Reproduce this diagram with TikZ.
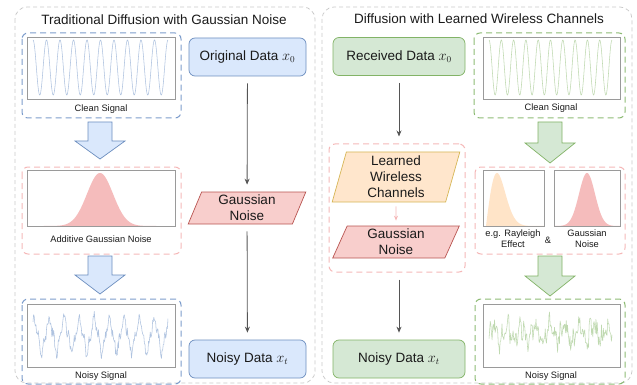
\documentclass[tikz,border=0pt]{standalone}
\usepackage{fontspec}
\setmainfont{Liberation Sans}
\usetikzlibrary{shapes.geometric,arrows.meta}
\definecolor{bfill}{HTML}{DAE8FC}
\definecolor{bline}{HTML}{6C8EBF}
\definecolor{bdashc}{HTML}{7C9CCB}
\definecolor{gfill}{HTML}{D5E8D4}
\definecolor{gline}{HTML}{82B366}
\definecolor{gdashc}{HTML}{8DBB74}
\definecolor{rfill}{HTML}{F8CECC}
\definecolor{rline}{HTML}{B85450}
\definecolor{ofill}{HTML}{FFE6CC}
\definecolor{oline}{HTML}{D6B656}
\definecolor{pdashc}{HTML}{F5B8B8}
\definecolor{grayout}{HTML}{C8C8C8}
\definecolor{arrowc}{HTML}{555555}
\definecolor{bsig}{HTML}{AFC3E0}
\definecolor{gsig}{HTML}{BFD9B0}
\definecolor{pinkc}{HTML}{F5BCBC}
\definecolor{peach}{HTML}{FFE4C8}
\definecolor{framec}{HTML}{9A9A9A}
\definecolor{txt}{HTML}{1A1A1A}
\newcommand\ftitle{\fontsize{13.5}{16}\selectfont}
\newcommand\fbigtext{\fontsize{13.5}{16}\selectfont}
\newcommand\fsmalltext{\fontsize{9.3}{11}\selectfont}
\newcommand\myblockarrow[6]{\draw[fill=#5, draw=#6, line width=0.7pt, line join=miter] ({#1-12},#2) -- ({#1+12},#2) -- ({#1+12},#3) -- ({#1+25},#3) -- (#1,#4) -- ({#1-25},#3) -- ({#1-12},#3) -- cycle;}
\begin{document}
\begin{tikzpicture}[x=1pt,y=-1pt,
  outerbox/.style={draw=grayout, dash pattern=on 4pt off 3pt, rounded corners=12pt, line width=0.7pt},
  bdash/.style={draw=bdashc, dash pattern=on 6pt off 4pt, rounded corners=6pt, line width=1pt},
  gdash/.style={draw=gdashc, dash pattern=on 6pt off 4pt, rounded corners=6pt, line width=1pt},
  pdash/.style={draw=pdashc, dash pattern=on 6pt off 4pt, rounded corners=6pt, line width=1pt},
  framebox/.style={draw=framec, line width=0.6pt},
  databox/.style={rectangle, rounded corners=6pt, line width=0.7pt, minimum height=38pt, font=\fbigtext, text=txt, align=center},
  bbox/.style={databox, fill=bfill, draw=bline, minimum width=117pt},
  gbox/.style={databox, fill=gfill, draw=gline, minimum width=132pt},
  para/.style={trapezium, trapezium stretches=true, trapezium left angle=72, trapezium right angle=108, minimum height=32pt, align=center, font=\fbigtext, text=txt, inner sep=0pt, line width=0.7pt},
  conn/.style={draw=arrowc, line width=0.8pt, -{Stealth[length=6pt,width=5pt]}, shorten <=7pt, shorten >=7pt},
  lbl/.style={font=\fsmalltext, text=txt, align=center, inner sep=0pt},
  ttl/.style={font=\ftitle, text=txt, inner sep=0pt}
]
\useasboundingbox (0,0) rectangle (637,385);
\pgfmathsetseed{7}

% outer boxes
\draw[outerbox] (15,7) rectangle (315,383);
\draw[outerbox] (322,7) rectangle (632,383);
\node[ttl] (t1) at (164,20) {Traditional Diffusion with Gaussian Noise};
\node[ttl] (t2) at (479,19) {Diffusion with Learned Wireless Channels};

% ---------- LEFT PANEL ----------
% clean signal
\draw[bdash] (22,33) rectangle (181,118);
\draw[framebox, fill=white] (27,37) rectangle (175,99);
\draw[bsig, line width=0.55pt] plot[domain=0:10, samples=300] ({33+13.5*\x}, {67.5-27.5*cos(360*\x)});
\node[lbl] (cs1) at (101,109) {Clean Signal};

\myblockarrow{100}{122}{141}{159}{bfill}{bline}

% additive gaussian
\draw[pdash] (22,167) rectangle (181,254);
\draw[fill=white, draw=none] (27,170) rectangle (175,226);
\fill[pinkc] plot[domain=27:175, samples=150] (\x, {226-53*exp(-((\x-100)/13)*((\x-100)/13)/2)}) -- cycle;
\draw[framebox] (27,170) rectangle (175,226);
\node[lbl] (agn) at (101,239) {Additive Gaussian Noise};

\myblockarrow{100}{256}{275}{294}{bfill}{bline}

% noisy signal
\draw[bdash] (22,299) rectangle (181,384);
\draw[framebox, fill=white] (27,304) rectangle (175,367);
\draw[bsig, line width=0.55pt, line join=round] plot[domain=0:9, samples=230] ({33+15*\x}, {335-15*sin(360*\x+60)-4*sin(1080*\x+20)+5*rand});
\node[lbl] (ns1) at (101,376) {Noisy Signal};

% flow
\node[bbox] (o0) at (247.5,57) {Original Data $x_0$};
\node[para, fill=rfill, draw=rline, minimum width=118pt] (gn1) at (247,208) {Gaussian\\Noise};
\node[bbox] (n0) at (247.5,359) {Noisy Data $x_t$};
\draw[conn] (o0) -- (gn1);
\draw[conn] (gn1) -- (n0);

% ---------- RIGHT PANEL ----------
\node[gbox] (rc) at (399,56.5) {Received Data $x_0$};
\node[pdash, rectangle, minimum width=136pt, minimum height=128pt, inner sep=0pt] (grp) at (397,208) {};
\node[para, fill=ofill, draw=oline, minimum width=128pt, minimum height=50pt, trapezium left angle=79, trapezium right angle=101] (lwc) at (396,177) {Learned\\Wireless\\Channels};
\node[para, fill=rfill, draw=rline, minimum width=127pt] (gn2) at (396,242) {Gaussian\\Noise};
\node[gbox] (nr) at (399,359) {Noisy Data $x_t$};
\draw[conn] (rc) -- (rc |- grp.north);
\draw[conn] (rc |- grp.south) -- (nr);
\draw[draw=pdashc, line width=0.8pt, -{Stealth[length=5pt,width=4pt]}, shorten <=4pt, shorten >=5pt] (lwc) -- (gn2);

% clean signal right
\draw[gdash] (474,33) rectangle (625,118);
\draw[framebox, fill=white] (483,37) rectangle (620,99);
\draw[gsig, line width=0.55pt] plot[domain=0:10, samples=300] ({489+12.3*\x}, {67.5-27.5*cos(360*\x)});
\node[lbl] (cs2) at (551,108) {Clean Signal};

\myblockarrow{550}{122}{143}{163}{gfill}{gline}

% channel effects
\draw[pdash] (475,167) rectangle (625,254);
\draw[fill=white, draw=none] (483,170) rectangle (544,226);
\fill[peach] plot[domain=486:544, samples=120] (\x, {226-53*((\x-486)/11)*exp((1-((\x-486)/11)*((\x-486)/11))/2)}) -- cycle;
\draw[framebox] (483,170) rectangle (544,226);
\draw[fill=white, draw=none] (554,170) rectangle (620,226);
\fill[pinkc] plot[domain=554:620, samples=120] (\x, {226-53*exp(-((\x-587)/8)*((\x-587)/8)/2)}) -- cycle;
\draw[framebox] (554,170) rectangle (620,226);
\node[lbl] (ray) at (513,238.5) {e.g. Rayleigh\\Effect};
\node[lbl] (amp) at (548,240) {\&};
\node[lbl] (gnl) at (587,238.5) {Gaussian\\Noise};

\myblockarrow{550}{256}{276}{296}{gfill}{gline}

% noisy signal right
\draw[gdash] (475,299) rectangle (625,384);
\draw[framebox, fill=white] (483,304) rectangle (620,367);
\draw[gsig, line width=0.55pt, line join=round] plot[domain=0:123, samples=200] ({489+\x}, {333-7*sin(\x*25)-5*sin(\x*61+30)-3*sin(\x*97)+9*rand});
\node[lbl] (ns2) at (551,376) {Noisy Signal};
\end{tikzpicture}
\end{document}
